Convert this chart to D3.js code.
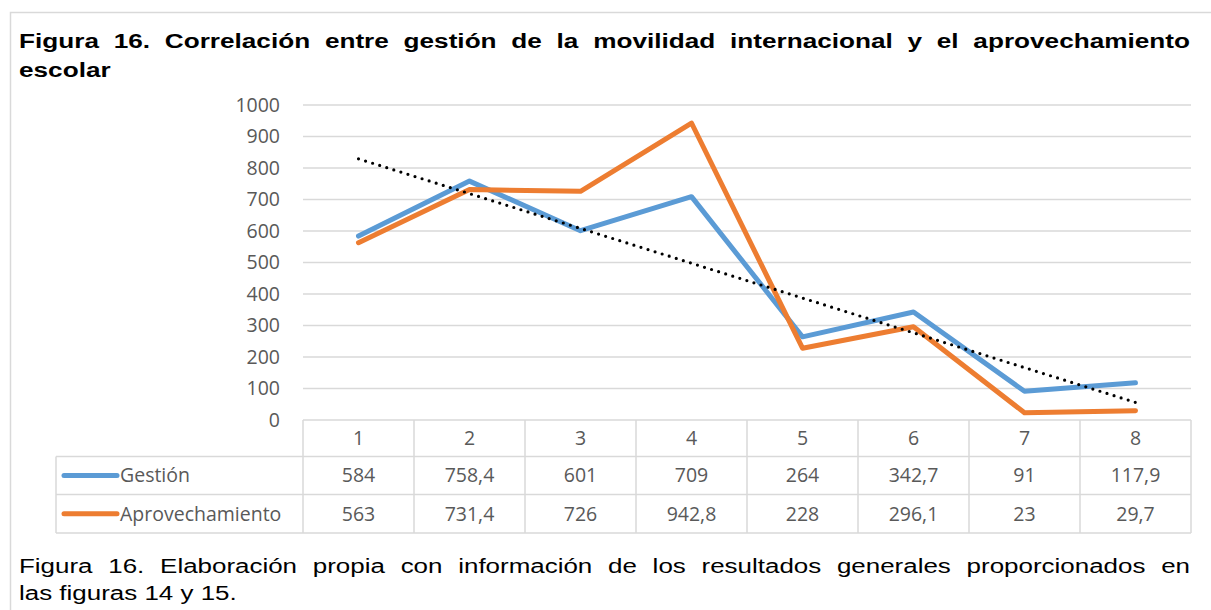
<!DOCTYPE html>
<html>
<head>
<meta charset="utf-8">
<script src="https://cdn.jsdelivr.net/npm/d3@7"></script>
<style>
  body { margin: 0; background: #fff; }
  svg { display: block; }
</style>
</head>
<body>
<div class="chart"></div>
<script>
// data
var categories = ["1", "2", "3", "4", "5", "6", "7", "8"];
var gestion = [584, 758.4, 601, 709, 264, 342.7, 91, 117.9];
var aprovechamiento = [563, 731.4, 726, 942.8, 228, 296.1, 23, 29.7];
var gestionLabels = ["584", "758,4", "601", "709", "264", "342,7", "91", "117,9"];
var aprovLabels = ["563", "731,4", "726", "942,8", "228", "296,1", "23", "29,7"];
var yTicks = [0, 100, 200, 300, 400, 500, 600, 700, 800, 900, 1000];

var titleLines = ["Figura 16. Correlación entre gestión de la movilidad internacional y el aprovechamiento", "escolar"];
var captionLines = ["Figura 16. Elaboración propia con información de los resultados generales proporcionados en", "las figuras 14 y 15."];

var svgWidth = 1211, svgHeight = 610;
var plot = { left: 303, right: 1191, top: 105, bottom: 420 };
var table = { labelLeft: 56, rowH: [36.5, 38, 38.5] };
var blue = "#5b9bd5", orange = "#ed7d31", grid = "#d9d9d9", textGray = "#595959";
var axisFont = "'Open Sans', sans-serif";
var axisSize = 19.5;

var svg = d3.select(".chart").append("svg")
  .attr("width", svgWidth)
  .attr("height", svgHeight);

// outer frame
svg.append("rect")
  .attr("x", 10.5).attr("y", 12.5)
  .attr("width", svgWidth + 20).attr("height", svgHeight + 20)
  .attr("fill", "none").attr("stroke", grid).attr("stroke-width", 1.5);

// scales
var x = d3.scaleBand().domain(categories).range([plot.left, plot.right]);
var y = d3.scaleLinear().domain([0, 1000]).range([plot.bottom, plot.top]);
var cx = function(i) { return x(categories[i]) + x.bandwidth() / 2; };

// gridlines
svg.append("g").selectAll("line")
  .data(yTicks.filter(function(t) { return t > 0; }))
  .enter().append("line")
  .attr("x1", plot.left).attr("x2", plot.right)
  .attr("y1", function(d) { return y(d); })
  .attr("y2", function(d) { return y(d); })
  .attr("stroke", grid).attr("stroke-width", 1.5);

// y axis labels
var yAxis = d3.axisLeft(y).tickValues(yTicks).tickFormat(d3.format("d")).tickSize(0).tickPadding(0);
var yg = svg.append("g")
  .attr("transform", "translate(" + (plot.left - 23) + ",0)")
  .call(yAxis);
yg.select(".domain").remove();
yg.selectAll("text")
  .attr("font-family", axisFont).attr("font-size", axisSize)
  .attr("fill", textGray);

// lines
var line = d3.line()
  .x(function(d, i) { return cx(i); })
  .y(function(d) { return y(d); });

[[gestion, blue], [aprovechamiento, orange]].forEach(function(s) {
  svg.append("path")
    .datum(s[0])
    .attr("d", line)
    .attr("fill", "none")
    .attr("stroke", s[1])
    .attr("stroke-width", 5)
    .attr("stroke-linejoin", "round")
    .attr("stroke-linecap", "round");
});

// linear trend of Aprovechamiento
var n = aprovechamiento.length;
var mx = d3.mean(aprovechamiento, function(d, i) { return i + 1; });
var my = d3.mean(aprovechamiento);
var sxy = d3.sum(aprovechamiento, function(d, i) { return (i + 1 - mx) * (d - my); });
var sxx = d3.sum(aprovechamiento, function(d, i) { return (i + 1 - mx) * (i + 1 - mx); });
var slope = sxy / sxx;
var trend = [my + slope * (1 - mx), my + slope * (n - mx)];
svg.append("line")
  .attr("x1", cx(0)).attr("y1", y(trend[0]))
  .attr("x2", cx(n - 1)).attr("y2", y(trend[1]))
  .attr("stroke", "#000").attr("stroke-width", 3.2)
  .attr("stroke-dasharray", "0 7.4")
  .attr("stroke-linecap", "round");

// data table
var tg = svg.append("g").attr("fill", "none").attr("stroke", grid).attr("stroke-width", 1.5);
var r0 = plot.bottom, r1 = r0 + table.rowH[0], r2 = r1 + table.rowH[1], r3 = r2 + table.rowH[2];
tg.append("line").attr("x1", plot.left).attr("x2", plot.right).attr("y1", r0).attr("y2", r0);
tg.append("line").attr("x1", table.labelLeft).attr("x2", plot.right).attr("y1", r1).attr("y2", r1);
tg.append("line").attr("x1", table.labelLeft).attr("x2", plot.right).attr("y1", r2).attr("y2", r2);
tg.append("line").attr("x1", table.labelLeft).attr("x2", plot.right).attr("y1", r3).attr("y2", r3);
tg.append("line").attr("x1", table.labelLeft).attr("x2", table.labelLeft).attr("y1", r1).attr("y2", r3);
tg.selectAll(".col").data(categories).enter().append("line")
  .attr("x1", function(d) { return x(d); }).attr("x2", function(d) { return x(d); })
  .attr("y1", r0).attr("y2", r3);
tg.append("line").attr("x1", plot.right).attr("x2", plot.right).attr("y1", r0).attr("y2", r3);

var rows = [
  { y: (r0 + r1) / 2, vals: categories },
  { y: (r1 + r2) / 2, vals: gestionLabels },
  { y: (r2 + r3) / 2, vals: aprovLabels }
];
rows.forEach(function(r) {
  svg.append("g").selectAll("text").data(r.vals).enter().append("text")
    .attr("x", function(d, i) { return cx(i); })
    .attr("y", r.y)
    .attr("dy", "0.35em")
    .attr("text-anchor", "middle")
    .attr("font-family", axisFont).attr("font-size", axisSize)
    .attr("fill", textGray)
    .text(function(d) { return d; });
});

// legend keys in table
[["Gestión", blue, rows[1].y], ["Aprovechamiento", orange, rows[2].y]].forEach(function(k) {
  svg.append("line")
    .attr("x1", 64).attr("x2", 117)
    .attr("y1", k[2]).attr("y2", k[2])
    .attr("stroke", k[1]).attr("stroke-width", 5).attr("stroke-linecap", "round");
  svg.append("text")
    .attr("x", 120).attr("y", k[2]).attr("dy", "0.35em")
    .attr("font-family", axisFont).attr("font-size", axisSize)
    .attr("fill", textGray)
    .text(k[0]);
});

// justified paragraph: glyphs stretched to a share (fit) of what would fill
// the first line, the remaining room goes into the word gaps
function textBlock(lines, x0, x1, yStart, lineH, size, weight, fit) {
  var font = "'Liberation Sans', Arial, sans-serif";
  var probe = svg.append("text")
    .attr("font-family", font).attr("font-size", size).attr("font-weight", weight)
    .text(lines[0]);
  var s = fit * (x1 - x0) / probe.node().getComputedTextLength();
  probe.remove();
  lines.forEach(function(txt, li) {
    var g = svg.append("g")
      .attr("transform", "translate(" + x0 + "," + (yStart + li * lineH) + ") scale(" + s + ",1)");
    if (li === lines.length - 1) {
      g.append("text")
        .attr("font-family", font).attr("font-size", size).attr("font-weight", weight)
        .attr("fill", "#000").text(txt);
      return;
    }
    var words = txt.split(" ");
    var nodes = words.map(function(w) {
      return g.append("text")
        .attr("font-family", font).attr("font-size", size).attr("font-weight", weight)
        .attr("fill", "#000").text(w);
    });
    var widths = nodes.map(function(t) { return t.node().getComputedTextLength(); });
    var gap = ((x1 - x0) / s - d3.sum(widths)) / (words.length - 1);
    var pos = 0;
    nodes.forEach(function(t, i) {
      t.attr("x", pos);
      pos += widths[i] + gap;
    });
  });
}

textBlock(titleLines, 19, 1190, 48, 29, 21, "bold", 0.93);
textBlock(captionLines, 19, 1190, 573, 27, 21, "normal", 0.92);
</script>
</body>
</html>
